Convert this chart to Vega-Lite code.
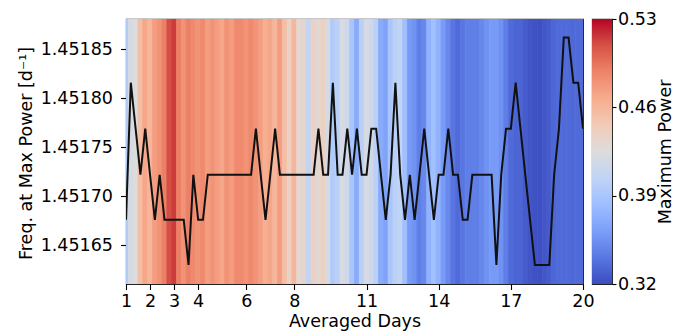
{
  "$schema": "https://vega.github.io/schema/vega-lite/v6.json",
  "autosize": {"type": "pad"},
  "padding": {"left": 16, "top": 9, "right": 5, "bottom": 2},
  "background": "white",
  "spacing": 9,
  "bounds": "flush",
  "config": {
    "font": "DejaVu Sans",
    "view": {"stroke": "#222", "strokeWidth": 1.1},
    "axis": {
      "labelFont": "DejaVu Sans", "titleFont": "DejaVu Sans",
      "labelFontSize": 17.5, "titleFontSize": 17.5,
      "labelColor": "black", "titleColor": "black", "titleFontWeight": "normal",
      "tickColor": "black", "tickWidth": 1.1, "tickSize": 5.5,
      "grid": false, "domain": false, "labelFlush": false
    }
  },
  "hconcat": [
    {
      "width": 457,
      "height": 265,
      "data": {"values": [
        {"day": 1.0, "freq": 1.451676, "power": 0.395},
        {"day": 1.2, "freq": 1.451816, "power": 0.42},
        {"day": 1.4, "freq": 1.451769, "power": 0.425},
        {"day": 1.6, "freq": 1.451722, "power": 0.455},
        {"day": 1.8, "freq": 1.451769, "power": 0.47},
        {"day": 2.0, "freq": 1.451722, "power": 0.46},
        {"day": 2.2, "freq": 1.451676, "power": 0.475},
        {"day": 2.4, "freq": 1.451722, "power": 0.48},
        {"day": 2.6, "freq": 1.451676, "power": 0.49},
        {"day": 2.8, "freq": 1.451676, "power": 0.51},
        {"day": 3.0, "freq": 1.451676, "power": 0.515},
        {"day": 3.2, "freq": 1.451676, "power": 0.49},
        {"day": 3.4, "freq": 1.451676, "power": 0.48},
        {"day": 3.6, "freq": 1.45163, "power": 0.49},
        {"day": 3.8, "freq": 1.451722, "power": 0.485},
        {"day": 4.0, "freq": 1.451676, "power": 0.48},
        {"day": 4.2, "freq": 1.451676, "power": 0.485},
        {"day": 4.4, "freq": 1.451722, "power": 0.475},
        {"day": 4.6, "freq": 1.451722, "power": 0.48},
        {"day": 4.8, "freq": 1.451722, "power": 0.475},
        {"day": 5.0, "freq": 1.451722, "power": 0.47},
        {"day": 5.2, "freq": 1.451722, "power": 0.48},
        {"day": 5.4, "freq": 1.451722, "power": 0.475},
        {"day": 5.6, "freq": 1.451722, "power": 0.485},
        {"day": 5.8, "freq": 1.451722, "power": 0.485},
        {"day": 6.0, "freq": 1.451722, "power": 0.48},
        {"day": 6.2, "freq": 1.451722, "power": 0.485},
        {"day": 6.4, "freq": 1.451769, "power": 0.48},
        {"day": 6.6, "freq": 1.451722, "power": 0.475},
        {"day": 6.8, "freq": 1.451676, "power": 0.465},
        {"day": 7.0, "freq": 1.451722, "power": 0.47},
        {"day": 7.2, "freq": 1.451769, "power": 0.46},
        {"day": 7.4, "freq": 1.451722, "power": 0.475},
        {"day": 7.6, "freq": 1.451722, "power": 0.455},
        {"day": 7.8, "freq": 1.451722, "power": 0.44},
        {"day": 8.0, "freq": 1.451722, "power": 0.46},
        {"day": 8.2, "freq": 1.451722, "power": 0.43},
        {"day": 8.4, "freq": 1.451722, "power": 0.435},
        {"day": 8.6, "freq": 1.451722, "power": 0.405},
        {"day": 8.8, "freq": 1.451722, "power": 0.44},
        {"day": 9.0, "freq": 1.451769, "power": 0.43},
        {"day": 9.2, "freq": 1.451722, "power": 0.44},
        {"day": 9.4, "freq": 1.451722, "power": 0.42},
        {"day": 9.6, "freq": 1.451816, "power": 0.395},
        {"day": 9.8, "freq": 1.451722, "power": 0.4},
        {"day": 10.0, "freq": 1.451722, "power": 0.42},
        {"day": 10.2, "freq": 1.451769, "power": 0.415},
        {"day": 10.4, "freq": 1.451722, "power": 0.39},
        {"day": 10.6, "freq": 1.451769, "power": 0.37},
        {"day": 10.8, "freq": 1.451722, "power": 0.4},
        {"day": 11.0, "freq": 1.451722, "power": 0.42},
        {"day": 11.2, "freq": 1.451769, "power": 0.415},
        {"day": 11.4, "freq": 1.451769, "power": 0.4},
        {"day": 11.6, "freq": 1.451722, "power": 0.37},
        {"day": 11.8, "freq": 1.451676, "power": 0.365},
        {"day": 12.0, "freq": 1.451722, "power": 0.39},
        {"day": 12.2, "freq": 1.451816, "power": 0.4},
        {"day": 12.4, "freq": 1.451722, "power": 0.405},
        {"day": 12.6, "freq": 1.451676, "power": 0.385},
        {"day": 12.8, "freq": 1.451722, "power": 0.36},
        {"day": 13.0, "freq": 1.451676, "power": 0.355},
        {"day": 13.2, "freq": 1.451722, "power": 0.345},
        {"day": 13.4, "freq": 1.451769, "power": 0.35},
        {"day": 13.6, "freq": 1.451722, "power": 0.375},
        {"day": 13.8, "freq": 1.451676, "power": 0.385},
        {"day": 14.0, "freq": 1.451722, "power": 0.375},
        {"day": 14.2, "freq": 1.451722, "power": 0.36},
        {"day": 14.4, "freq": 1.451769, "power": 0.35},
        {"day": 14.6, "freq": 1.451722, "power": 0.34},
        {"day": 14.8, "freq": 1.451722, "power": 0.335},
        {"day": 15.0, "freq": 1.451676, "power": 0.34},
        {"day": 15.2, "freq": 1.451676, "power": 0.345},
        {"day": 15.4, "freq": 1.451722, "power": 0.345},
        {"day": 15.6, "freq": 1.451722, "power": 0.345},
        {"day": 15.8, "freq": 1.451722, "power": 0.35},
        {"day": 16.0, "freq": 1.451722, "power": 0.355},
        {"day": 16.2, "freq": 1.451722, "power": 0.36},
        {"day": 16.4, "freq": 1.45163, "power": 0.36},
        {"day": 16.6, "freq": 1.451722, "power": 0.355},
        {"day": 16.8, "freq": 1.451769, "power": 0.345},
        {"day": 17.0, "freq": 1.451769, "power": 0.335},
        {"day": 17.2, "freq": 1.451816, "power": 0.332},
        {"day": 17.4, "freq": 1.451769, "power": 0.332},
        {"day": 17.6, "freq": 1.451722, "power": 0.328},
        {"day": 17.8, "freq": 1.451676, "power": 0.325},
        {"day": 18.0, "freq": 1.45163, "power": 0.323},
        {"day": 18.2, "freq": 1.45163, "power": 0.322},
        {"day": 18.4, "freq": 1.45163, "power": 0.325},
        {"day": 18.6, "freq": 1.45163, "power": 0.328},
        {"day": 18.8, "freq": 1.451722, "power": 0.333},
        {"day": 19.0, "freq": 1.451769, "power": 0.335},
        {"day": 19.2, "freq": 1.451862, "power": 0.335},
        {"day": 19.4, "freq": 1.451862, "power": 0.335},
        {"day": 19.6, "freq": 1.451816, "power": 0.334},
        {"day": 19.8, "freq": 1.451816, "power": 0.335},
        {"day": 20.0, "freq": 1.451769, "power": 0.335}
      ]},
      "layer": [
        {
          "transform": [
            {"calculate": "max(1, datum.day - 0.1)", "as": "x0"},
            {"calculate": "min(20, datum.day + 0.1)", "as": "x1"}
          ],
          "mark": {"type": "rect", "clip": true, "strokeWidth": 0.8},
          "encoding": {
            "x": {
              "field": "x0", "type": "quantitative",
              "scale": {"domain": [1, 20], "nice": false, "zero": false},
              "axis": {"title": "Averaged Days", "values": [1, 2, 3, 4, 6, 8, 11, 14, 17, 20], "format": "d", "labelPadding": 2.5, "titleY": 37, "titleBaseline": "middle"}
            },
            "x2": {"field": "x1"},
            "color": {
              "field": "power", "type": "quantitative",
              "scale": {
                "domain": [0.32, 0.341, 0.362, 0.383, 0.404, 0.425, 0.446, 0.467, 0.488, 0.509, 0.53],
                "range": ["#3b4cc0", "#5977e3", "#7b9ff9", "#9ebeff", "#c0d4f5", "#dddcdc", "#f2cbb7", "#f7ac8e", "#ee8468", "#d65244", "#b40426"],
                "interpolate": "rgb"
              },
              "legend": null
            },
            "stroke": {
              "field": "power", "type": "quantitative",
              "scale": {
                "domain": [0.32, 0.341, 0.362, 0.383, 0.404, 0.425, 0.446, 0.467, 0.488, 0.509, 0.53],
                "range": ["#3b4cc0", "#5977e3", "#7b9ff9", "#9ebeff", "#c0d4f5", "#dddcdc", "#f2cbb7", "#f7ac8e", "#ee8468", "#d65244", "#b40426"],
                "interpolate": "rgb"
              },
              "legend": null
            }
          }
        },
        {
          "mark": {"type": "line", "color": "#111", "strokeWidth": 2, "clip": true},
          "encoding": {
            "x": {
              "field": "day", "type": "quantitative",
              "axis": {"title": "Averaged Days", "values": [1, 2, 3, 4, 6, 8, 11, 14, 17, 20], "format": "d", "labelPadding": 2.5, "titleY": 37, "titleBaseline": "middle"}
            },
            "y": {
              "field": "freq", "type": "quantitative",
              "scale": {"domain": [1.4516105, 1.451881], "nice": false, "zero": false},
              "axis": {"title": "Freq. at Max Power [d⁻¹]", "values": [1.45165, 1.4517, 1.45175, 1.4518, 1.45185], "format": ".5f", "labelPadding": 8, "titleX": -99.5, "titleY": 134, "titleAngle": 270, "titleBaseline": "middle", "titleAlign": "center"}
            }
          }
        }
      ]
    },
    {
      "width": 20,
      "height": 265,
      "data": {"values": [{"lo": 0.32, "hi": 0.53}]},
      "mark": {
        "type": "rect",
        "color": {
          "gradient": "linear", "x1": 0, "y1": 1, "x2": 0, "y2": 0,
          "stops": [
            {"offset": 0.0, "color": "#3b4cc0"},
            {"offset": 0.1, "color": "#5977e3"},
            {"offset": 0.2, "color": "#7b9ff9"},
            {"offset": 0.3, "color": "#9ebeff"},
            {"offset": 0.4, "color": "#c0d4f5"},
            {"offset": 0.5, "color": "#dddcdc"},
            {"offset": 0.6, "color": "#f2cbb7"},
            {"offset": 0.7, "color": "#f7ac8e"},
            {"offset": 0.8, "color": "#ee8468"},
            {"offset": 0.9, "color": "#d65244"},
            {"offset": 1.0, "color": "#b40426"}
          ]
        }
      },
      "encoding": {
        "y": {
          "field": "lo", "type": "quantitative",
          "scale": {"domain": [0.32, 0.53], "nice": false, "zero": false},
          "axis": {"orient": "right", "values": [0.32, 0.39, 0.46, 0.53], "format": ".2f", "title": "Maximum Power", "tickSize": 4, "labelPadding": 1.5, "titleX": 53, "titleY": 132.5, "titleAngle": 270, "titleBaseline": "middle", "titleAlign": "center"}
        },
        "y2": {"field": "hi"}
      }
    }
  ]
}
